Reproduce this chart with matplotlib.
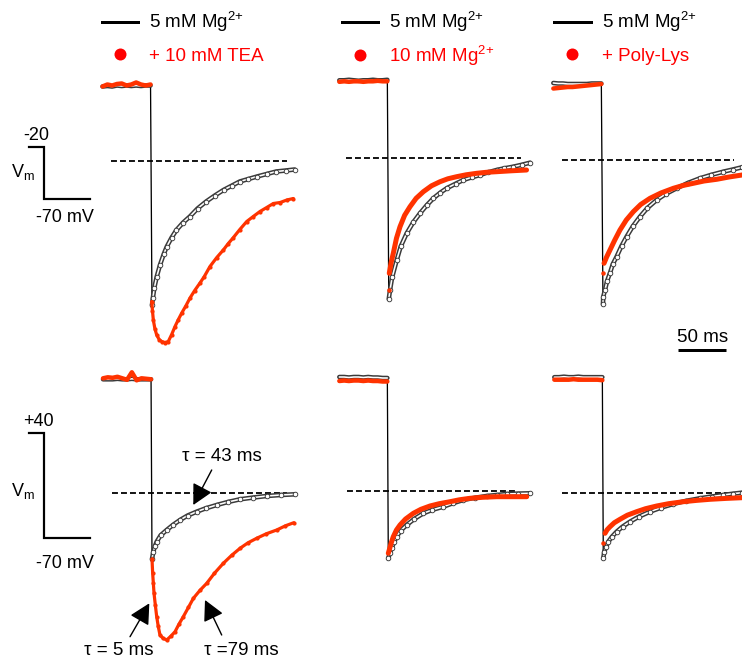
import matplotlib
matplotlib.use('Agg')
import matplotlib.pyplot as plt
from matplotlib.lines import Line2D

plt.rcParams['font.family'] = ['Liberation Sans', 'DejaVu Sans']
plt.rcParams['mathtext.fontset'] = 'custom'
plt.rcParams['mathtext.rm'] = 'Liberation Sans'
plt.rcParams['mathtext.it'] = 'Liberation Sans:italic'
plt.rcParams['mathtext.default'] = 'regular'

# ---------------------------------------------------------------- data
# time of baseline samples (ms, step at t = 0)
T_BASE = [-51, -46, -41, -36, -31, -26, -21, -16, -11, -6, -1]

# ---- top row (prepulse -20 mV)
top1_base_black = [74, 74.5, 74, 75, 74.5, 75, 74.5, 75, 74.5, 75, 75]
top1_base_red = [74, 76, 75, 76.5, 77, 75, 76, 78, 76, 75, 76]
top1_t_black = [0.5, 1.5, 3, 5.5, 9, 13, 16, 21, 26, 33, 40, 48, 57, 66, 75, 84, 92, 101, 110, 120, 130, 140, 149]
top1_i_black = [-144.5, -137, -127, -116, -104, -93, -86, -77, -69.5, -62, -56, -48, -41, -35, -29.5, -25, -21, -18.5, -16, -13.5, -11, -10, -9]
top1_t_red = [0.2, 1.0, 1.9, 3.5, 5.4, 8, 10.6, 14, 17.5, 21, 24.5, 28, 31.5, 36, 40.1, 45, 50.5, 55, 60.9, 68, 74.8, 80, 84.9, 92, 99.2, 106, 113, 120, 126.9, 134, 141, 147.7]
top1_i_red = [-141, -150, -159.5, -168, -174.5, -179, -181, -182, -181, -174, -166, -159, -152.5, -145, -137.5, -130, -122.5, -116, -106, -97, -89.5, -83, -77.5, -69, -61, -56, -51, -47, -43, -42, -39.5, -38]

top2_base_black = [78, 78, 78.5, 78, 77.5, 78, 78, 78.5, 78, 78, 78.5]
top2_base_red = [76.5, 77, 76.5, 77, 77, 76.5, 77, 77, 77.5, 77, 77]
top2_t_black = [0.5, 1.8, 4, 8.8, 13, 19.2, 26, 33, 40, 46.9, 54, 60.8, 70, 78.1, 87, 95.5, 104, 112.8, 121, 130.2, 139, 147.6]
top2_i_black = [-140.7, -131.7, -119, -101.7, -88, -75, -64, -55, -47, -40, -34.5, -30, -25.5, -21.7, -19, -16.7, -14, -11.7, -10, -8.4, -6.5, -4.4]
top2_t_red = [0.5, 1.0, 3, 5.2, 8.5, 12.2, 17, 22.6, 29, 36.5, 45, 53.9, 62, 71.2, 81, 92.1, 102, 112.8, 128, 144]
top2_i_red = [-132, -115, -104, -95, -80, -68.4, -57, -48.4, -40, -33.4, -27.5, -23.4, -20.5, -18.4, -16.5, -15, -14, -13.4, -12.5, -11.7]

top3_base_black = [77, 76.5, 76.5, 76, 76, 76, 76, 76, 76.5, 76.5, 76.5]
top3_base_red = [71.5, 72, 72.5, 73, 73, 73.5, 74, 74.5, 75, 75.5, 76]
top3_t_black = [0.7, 1, 2.8, 5, 8, 11, 14.9, 20, 25.3, 32, 39.2, 47, 56.6, 66, 77.4, 89, 101.7, 113, 126, 136, 145.5, 152]
top3_i_black = [-144.3, -136.7, -130, -121, -113, -104, -96.7, -86, -76.7, -66, -56.7, -48, -40, -34, -28.3, -23, -18.3, -15, -11.7, -9.5, -7.3, -6]
top3_t_red = [0.4, 1.8, 4.5, 8, 13, 18.4, 25, 32.3, 40, 49.7, 61, 74, 84, 94.8, 106, 119.2, 132, 145.5, 152]
top3_i_red = [-113.3, -103.3, -97, -90, -80, -70, -60, -51.7, -44.5, -38.3, -33, -28.3, -25.5, -23.3, -21, -19.3, -17, -15, -14.5]

# ---- bottom row (prepulse +40 mV)
bot1_base_black = [114, 114, 114, 114.5, 114, 114, 114.5, 114, 114, 114, 114]
bot1_base_red = [115, 116, 115.5, 116.5, 115, 113.5, 121, 113, 115, 114.5, 114]
bot1_t_black = [0, 1.4, 3, 4.9, 9, 15.3, 22, 29.2, 37, 46.5, 56, 67.4, 79, 91.7, 105, 119.5, 134, 149]
bot1_i_black = [-65.7, -58.4, -53, -48.4, -42, -36.7, -31.5, -26.7, -22.3, -18.4, -15, -11.7, -8.7, -6, -4.3, -2.7, -1.7, -1]
bot1_t_red = [0, 0.7, 1.4, 2.1, 3.5, 4.9, 6.5, 8.3, 11.5, 15.3, 19.5, 24, 28, 32.6, 38, 43.1, 50, 57, 65, 74.3, 83, 91.7, 100, 109, 119, 129.9, 139, 147.7]
bot1_i_red = [-65.7, -80, -90, -100, -112, -123.4, -133, -141.7, -145, -146.7, -143, -138.4, -131, -123.4, -114, -105, -97, -90, -80, -70, -62, -55, -49.5, -45, -40.5, -36.7, -32.5, -29.4]

bot2_base_black = [114, 114, 113.5, 114, 114, 113.5, 114, 113.5, 113.5, 113, 113]
bot2_base_red = [110, 110.5, 110, 110.5, 110.5, 110, 110.5, 110, 110, 109.5, 109.5]
bot2_t_black = [0, 1.5, 3.5, 6, 8.7, 13, 19.1, 27, 36.5, 46, 57.3, 67, 78.1, 90, 102.5, 113, 123.3, 135, 147.6]
bot2_i_black = [-67.3, -62, -57.3, -51, -45.7, -39.5, -34, -28, -22.3, -18.8, -15.7, -12.3, -9, -6.8, -5, -4, -3, -2.6, -2.3]
bot2_t_red = [0, 1, 3, 5.2, 8.5, 12.2, 18, 26.1, 34, 43.4, 53, 64.3, 74, 85.1, 98, 112.9, 128, 144.2]
bot2_i_red = [-62.3, -59, -52, -45.7, -39, -34, -28, -22.3, -18.3, -15, -12.7, -10.7, -8.8, -7.3, -6.3, -5.7, -5.7, -5.7]

bot3_base_black = [115.5, 115.5, 116, 115.5, 115.5, 116, 115.5, 115.5, 115.5, 115.5, 115.5]
bot3_base_red = [113, 113, 113, 113, 113.5, 113, 113, 113, 113, 113, 112.5]
bot3_t_black = [0, 1, 3, 5.2, 9, 13.9, 20, 27.8, 37, 48.6, 60, 72.9, 86, 100.7, 113, 125, 135, 144.4, 152]
bot3_i_black = [-65.6, -59, -54, -49, -44, -39, -34, -29, -24, -19, -15, -11.3, -8.2, -5.6, -3.8, -2.3, -1, 0, 0.5]
bot3_t_red = [0, 1.8, 4, 7, 11.5, 17.4, 25, 34.7, 44, 55.6, 68, 83.4, 97, 111.2, 128, 144.4, 152]
bot3_i_red = [-50, -40.6, -37, -34, -30, -26.6, -22.5, -19, -16, -13.3, -11, -9, -7.7, -6.6, -5.7, -5, -4.8]

# zero-current (dashed) spans, ms
zero_spans = {'top1': [-42, 141], 'top2': [-44, 138], 'top3': [-42, 137],
              'bot1': [-42, 141], 'bot2': [-43, 134], 'bot3': [-43, 160]}

# legend labels
legend_black = ['5 mM Mg$^{2{+}}$', '5 mM Mg$^{2{+}}$', '5 mM Mg$^{2{+}}$']
legend_red = ['+ 10 mM TEA', '10 mM Mg$^{2{+}}$', '+ Poly-Lys']

# voltage protocol (scale bars)
PROTO_T = [-16, 0, 0, 48]
PROTO_V_TOP = [-20, -20, -70, -70]
PROTO_V_BOT = [40, 40, -70, -70]
SCALE_MS = 50

# time constants
tau_labels = ['τ = 43 ms', 'τ = 5 ms', 'τ =79 ms']

# ---------------------------------------------------------------- layout
W, H, DPI = 742, 660, 100
PT = 72.0 / DPI
PX_PER_MS = 0.96
BLACK_EDGE = '#3a3a3a'
RED = '#ff3300'
LEG_RED = '#ff0000'

fig = plt.figure(figsize=(W / DPI, H / DPI), dpi=DPI)


def axes_px(left, top, width, height):
    return fig.add_axes([left / W, 1 - (top + height) / H, width / W, height / H])


def add_panel(x_step, y_zero, xlim=(-60, 165), ylim=(-200, 130)):
    w = (xlim[1] - xlim[0]) * PX_PER_MS
    h = (ylim[1] - ylim[0])
    ax = axes_px(x_step + xlim[0] * PX_PER_MS, y_zero - ylim[1], w, h)
    ax.set_xlim(xlim)
    ax.set_ylim(ylim)
    ax.axis('off')
    ax.patch.set_alpha(0)
    return ax


def draw_panel(ax, zero_span, bb, br, tb, ib, tr, ir, red_gap, dotted_red):
    ax.plot(zero_span, [0, 0], color='black', lw=1.8 * PT, dashes=(3.3, 1.7), zorder=1)
    # thin black trace incl. step
    ax.plot(T_BASE + tb, bb + ib, color='black', lw=1.3 * PT, zorder=2)
    for tt, ii in ((T_BASE, bb), (tb, ib)):
        ax.plot(tt, ii, color=BLACK_EDGE, lw=4.6 * PT, solid_capstyle='round', zorder=3)
        ax.plot(tt, ii, color='white', lw=1.6 * PT, solid_capstyle='round', zorder=4)
    ax.plot(tb, ib, 'o', ms=4.6 * PT, mfc='white', mec=BLACK_EDGE, mew=0.9 * PT, zorder=5)
    # red trace
    ax.plot(T_BASE, br, color=RED, lw=4.5 * PT, solid_capstyle='round', zorder=6)
    if red_gap:
        ax.plot(tr[:1], ir[:1], 'o', color=RED, ms=4.5 * PT, mew=0, zorder=7)
        tr, ir = tr[1:], ir[1:]
    if dotted_red:
        ax.plot(tr, ir, color=RED, lw=3.2 * PT, solid_capstyle='round', zorder=6)
        ax.plot(tr, ir, 'o', color=RED, ms=4.2 * PT, mew=0, zorder=7)
    else:
        ax.plot(tr, ir, color=RED, lw=5.0 * PT, solid_capstyle='round', zorder=6)


panels = [
    ('top1', 151.5, 160.5, top1_base_black, top1_base_red, top1_t_black, top1_i_black, top1_t_red, top1_i_red, False, True),
    ('top2', 388.3, 158.3, top2_base_black, top2_base_red, top2_t_black, top2_i_black, top2_t_red, top2_i_red, True, False),
    ('top3', 602.3, 160.0, top3_base_black, top3_base_red, top3_t_black, top3_i_black, top3_t_red, top3_i_red, True, False),
    ('bot1', 152.0, 493.3, bot1_base_black, bot1_base_red, bot1_t_black, bot1_i_black, bot1_t_red, bot1_i_red, False, True),
    ('bot2', 388.3, 491.0, bot2_base_black, bot2_base_red, bot2_t_black, bot2_i_black, bot2_t_red, bot2_i_red, False, False),
    ('bot3', 603.3, 492.7, bot3_base_black, bot3_base_red, bot3_t_black, bot3_i_black, bot3_t_red, bot3_i_red, True, False),
]

axes = {}
for name, xs, yz, bb, br, tb, ib, tr, ir, gap, dotted in panels:
    ax = add_panel(xs, yz)
    draw_panel(ax, zero_spans[name], bb, br, tb, ib, tr, ir, gap, dotted)
    axes[name] = ax

# 50 ms time scale bar (top right panel)
ax3 = axes['top3']
ax3.plot([79, 79 + SCALE_MS], [-190, -190], color='black', lw=3 * PT, solid_capstyle='butt', clip_on=False)
ax3.text(79 + SCALE_MS / 2, -177, f'{SCALE_MS} ms', ha='center', va='center', fontsize=13.5)

# tau annotations (bottom left panel)
ax1 = axes['bot1']
arrow = dict(arrowstyle='-|>,head_length=1.25,head_width=0.65', color='black', lw=1.4 * PT,
             shrinkA=0, shrinkB=0, mutation_scale=10)
ax1.annotate('', xy=(43, -11.7), xytext=(62.2, 23.3), arrowprops=arrow)
ax1.annotate('', xy=(-2.8, -110), xytext=(-22.9, -143.4), arrowprops=arrow)
ax1.annotate('', xy=(55.2, -106.7), xytext=(72.6, -141.7), arrowprops=arrow)
ax1.text(72.9, 36.3, tau_labels[0], ha='center', va='center', fontsize=13.5)
ax1.text(-34.9, -157.7, tau_labels[1], ha='center', va='center', fontsize=13.5)
ax1.text(92.7, -157.7, tau_labels[2], ha='center', va='center', fontsize=13.5)

# voltage protocol scale bars
pa = axes_px(44.3 - 20 * PX_PER_MS, 147 - 5 * 1.04, 70 * PX_PER_MS, 60 * 1.04)
pa.set_xlim(-20, 50); pa.set_ylim(-75, -15); pa.axis('off'); pa.patch.set_alpha(0)
pa.plot(PROTO_T, PROTO_V_TOP, color='black', lw=2.2 * PT, solid_joinstyle='miter')
pb = axes_px(44.3 - 20 * PX_PER_MS, 432.7 - 5 * 0.96, 70 * PX_PER_MS, 120 * 0.96)
pb.set_xlim(-20, 50); pb.set_ylim(-75, 45); pb.axis('off'); pb.patch.set_alpha(0)
pb.plot(PROTO_T, PROTO_V_BOT, color='black', lw=2.2 * PT, solid_joinstyle='miter')

# overlay for labels (pixel coordinates)
ov = fig.add_axes([0, 0, 1, 1])
ov.set_xlim(0, W); ov.set_ylim(H, 0); ov.axis('off'); ov.patch.set_alpha(0)
ov.text(36.7, 135, f'{PROTO_V_TOP[0]:d}', ha='center', va='center', fontsize=13)
ov.text(23, 172, 'V$_\\mathrm{m}$', ha='center', va='center', fontsize=13)
ov.text(65, 218, f'{PROTO_V_TOP[-1]:d} mV', ha='center', va='center', fontsize=13)
ov.text(38.3, 421.7, f'{PROTO_V_BOT[0]:+d}', ha='center', va='center', fontsize=13)
ov.text(23, 491, 'V$_\\mathrm{m}$', ha='center', va='center', fontsize=13)
ov.text(65, 563.3, f'{PROTO_V_BOT[-1]:d} mV', ha='center', va='center', fontsize=13)

# legends
leg_x = [101.7, 341.7, 554.0]
leg_spacing = [0.72, 0.52, 0.72]
for x, lb, lr, sp in zip(leg_x, legend_black, legend_red, leg_spacing):
    handles = [Line2D([], [], color='black', lw=3 * PT),
               Line2D([], [], ls='none', marker='o', ms=12 * PT, color=LEG_RED, mew=0)]
    fig.legend(handles=handles, labels=[lb, lr], loc='upper left',
               bbox_to_anchor=(x / W, 1 - 10 / H), frameon=False, fontsize=13.5,
               handlelength=1.95, handletextpad=0.59, labelspacing=sp,
               borderpad=0, borderaxespad=0, labelcolor=['black', LEG_RED], numpoints=1)

fig.savefig('out.png', dpi=DPI)
